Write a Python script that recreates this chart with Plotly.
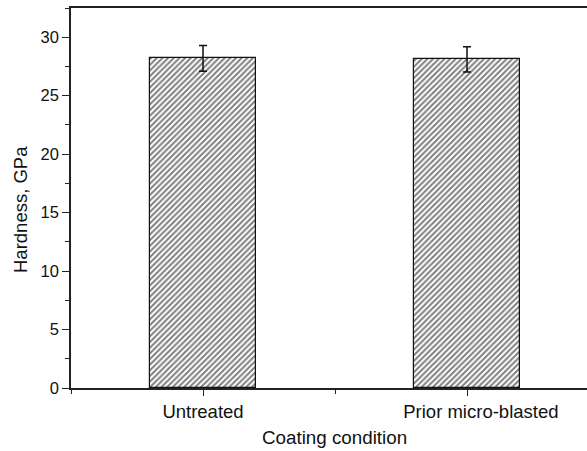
import plotly.graph_objects as go

categories = ["Untreated", "Prior micro-blasted"]
hardness = [28.2, 28.1]
hardness_err = [1.1, 1.08]
y_ticks = [0, 5, 10, 15, 20, 25, 30]

FONT = "Liberation Sans, Arial, sans-serif"
positions = list(range(len(categories)))
# the second label sits a little right of its tick in the reference
tick_text = [categories[0], "\u2002\u2002\u2002" + categories[1]]

fig = go.Figure()
fig.add_trace(go.Bar(
    x=positions,
    y=hardness,
    width=0.4,
    marker=dict(
        color="white",
        line=dict(color="#111111", width=1.2),
        pattern=dict(shape="/", size=4, solidity=0.5, fgcolor="#000000", bgcolor="white"),
    ),
    error_y=dict(type="data", array=hardness_err, visible=True, color="#111111",
                 thickness=1.5, width=4),
    showlegend=False,
))

fig.update_layout(
    width=587, height=451,
    margin=dict(l=71, r=0, t=8, b=63),
    plot_bgcolor="white", paper_bgcolor="white",
    font=dict(family=FONT, color="#111111"),
    bargap=0,
)
fig.update_xaxes(
    range=[-0.5, 1.4545],
    tickvals=positions, ticktext=tick_text,
    showline=True, linecolor="#222222", linewidth=1.5, mirror=True,
    ticks="outside", ticklen=6, tickwidth=1.2, tickcolor="#222222",
    minor=dict(ticks="outside", ticklen=4, dtick=0.5, tick0=0, tickcolor="#222222", tickwidth=1.2),
    tickfont=dict(size=18.5, family=FONT, color="#111111"),
    showgrid=False, zeroline=False,
)
fig.update_yaxes(
    range=[0, 32.5],
    tickvals=y_ticks,
    showline=True, linecolor="#222222", linewidth=1.5, mirror=False,
    ticks="outside", ticklen=7, tickwidth=1.2, tickcolor="#222222",
    minor=dict(ticks="outside", ticklen=4, dtick=2.5, tick0=0, tickcolor="#222222", tickwidth=1.2),
    tickfont=dict(size=16.5, family=FONT, color="#111111"),
    showgrid=False, zeroline=False,
)
fig.add_annotation(text="Coating condition", xref="paper", yref="paper",
                   x=(334 - 71) / 516, y=-(437 - 388) / 380, showarrow=False,
                   xanchor="center", yanchor="middle",
                   font=dict(size=18.8, family=FONT, color="#111111"))
fig.add_annotation(text="Hardness, GPa", xref="paper", yref="paper",
                   x=(20 - 71) / 516, y=(388 - 210) / 380, showarrow=False,
                   textangle=-90, xanchor="center", yanchor="middle",
                   font=dict(size=18.5, family=FONT, color="#111111"))

fig.write_html("out.html")
